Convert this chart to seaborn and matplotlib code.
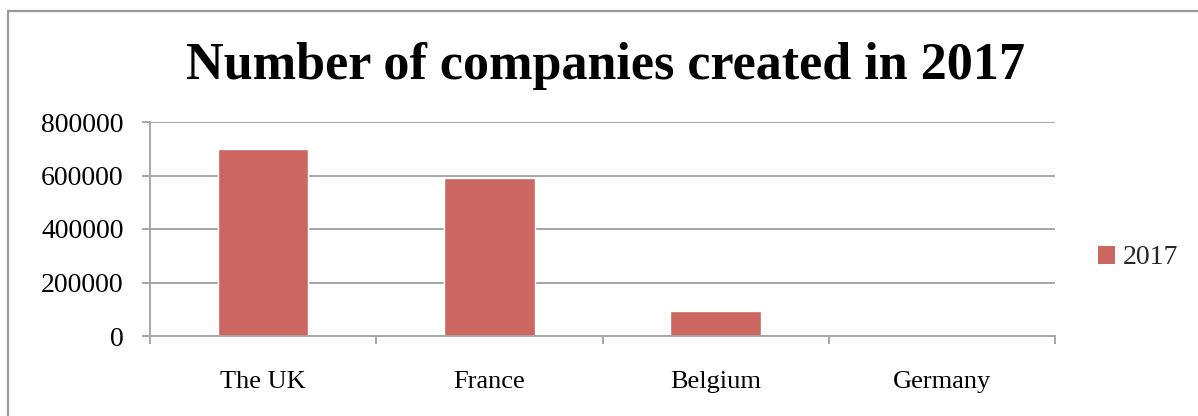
import matplotlib
matplotlib.use("Agg")
import matplotlib.pyplot as plt
from matplotlib.lines import Line2D
from matplotlib.patches import Patch
import seaborn as sns
import pandas as pd
import numpy as np

# Data
countries = ["The UK", "France", "Belgium", "Germany"]
companies_2017 = [700000, 591000, 94000, 0]
series_name = "2017"
y_ticks = [0, 200000, 400000, 600000, 800000]

bar_color = "#CC6660"
grid_color = "#A6A6A6"

sns.set_theme(style="white")
plt.rcParams["font.family"] = ["Liberation Serif", "DejaVu Serif"]

df = pd.DataFrame({"country": countries, "companies": companies_2017,
                   "year": [series_name] * len(countries)})

fig = plt.figure(figsize=(11.98, 4.16), dpi=100)
ax = fig.add_axes([150 / 1198, 1 - 336 / 416, (1055 - 150) / 1198, (336 - 122) / 416])

sns.barplot(data=df, x="country", y="companies", hue="year", palette=[bar_color],
            width=0.4, ax=ax, legend=False, saturation=1)

ax.set_xlim(-0.5, len(countries) - 0.5)
ax.set_ylim(0, 800000)
ax.set_yticks(y_ticks)
ax.set_yticklabels([str(v) for v in y_ticks], fontsize=20, color="#000000")
ax.set_xlabel("")
ax.set_ylabel("")

# horizontal gridlines
ax.yaxis.grid(True, color=grid_color, linewidth=1.4)
ax.set_axisbelow(True)

for side in ["top", "right"]:
    ax.spines[side].set_visible(False)
for side in ["left", "bottom"]:
    ax.spines[side].set_color(grid_color)
    ax.spines[side].set_linewidth(1.4)

# category labels centred, tick marks at category boundaries
ax.set_xticks(range(len(countries)))
ax.set_xticklabels(countries, fontsize=19, color="#000000")
ax.tick_params(axis="x", which="major", length=0, pad=25)
ax.set_xticks(np.arange(-0.5, len(countries), 1.0), minor=True)
ax.tick_params(axis="x", which="minor", length=6, width=1.4, color=grid_color,
               direction="out", bottom=True)
ax.tick_params(axis="y", which="major", length=6, width=1.4, color=grid_color,
               direction="out", left=True, pad=13)

# legend
handle = Patch(facecolor=bar_color, edgecolor="none", label=series_name)
fig.legend(handles=[handle], loc="center left",
           bbox_to_anchor=(1087 / 1198, 1 - 258 / 416), frameon=False,
           fontsize=20, handlelength=0.6, handleheight=0.6, handletextpad=0.3,
           borderaxespad=0)

# title
fig.text(605 / 1198, 1 - 66 / 416, "Number of companies created in 2017",
         ha="center", va="center", fontsize=37.5, fontweight="bold", color="#000000")

# outer chart frame (left and top edges)
fig.add_artist(Line2D([8 / 1198, 8 / 1198], [0, 1 - 11 / 416],
                      transform=fig.transFigure, color="#999999", linewidth=1.6))
fig.add_artist(Line2D([8 / 1198, 1], [1 - 11 / 416, 1 - 11 / 416],
                      transform=fig.transFigure, color="#999999", linewidth=1.6))

fig.savefig("out.png", dpi=100, facecolor="white")
